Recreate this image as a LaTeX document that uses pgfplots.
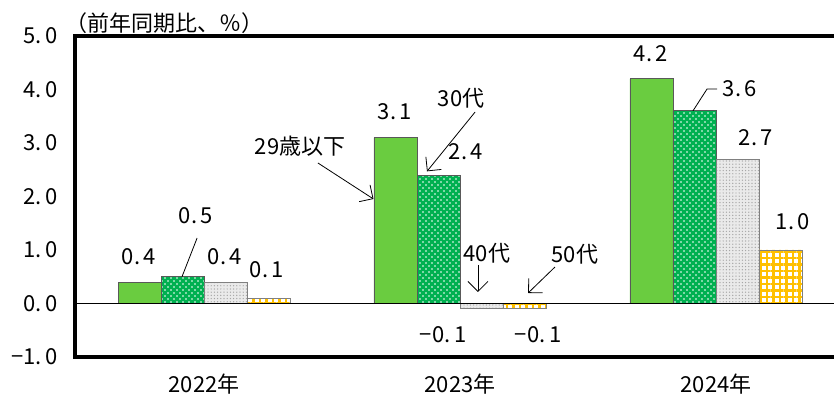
\documentclass[border=0pt]{standalone}
\usepackage{pgfplots}
\pgfplotsset{compat=1.18}
\usepackage{fontspec}
\setmainfont{Noto Sans CJK JP}
\usetikzlibrary{patterns.meta,arrows.meta}
\definecolor{gA}{RGB}{106,204,64}
\definecolor{gB}{RGB}{0,176,80}
\definecolor{grB}{RGB}{234,234,234}
\definecolor{yB}{RGB}{255,192,0}
\newcommand{\n}[2]{#1.\,#2}
\begin{document}
\begin{tikzpicture}[font=\fontsize{11}{13}\selectfont]
\begin{axis}[
 scale only axis, width=379.5pt, height=160.5pt,
 xmin=-0.504, xmax=2.461, ymin=-1, ymax=5,
 axis line style={draw=none},
 ytick={-1,0,...,5}, yticklabels={\n{−1}{0},\n{0}{0},\n{1}{0},\n{2}{0},\n{3}{0},\n{4}{0},\n{5}{0}},
 xtick={0,1,2}, xticklabels={2022年,2023年,2024年},
 major tick length=0pt,
 yticklabel style={xshift=-5pt},
 xticklabel style={yshift=-5pt},
 ybar, bar width=0.168,
 clip=false,
]
\addplot[bar shift=-0.252, fill=gA, draw=gray!70!black, line width=0.4pt] coordinates {(0,0.4) (1,3.1) (2,4.2)};
\addplot[bar shift=-0.084, fill=gB, draw=gray!70!black, line width=0.4pt,
  postaction={pattern={Dots[distance=3pt,radius=0.45pt]}, pattern color=white},
  postaction={pattern={Dots[distance=3pt,radius=0.45pt,xshift=1.5pt,yshift=1.5pt]}, pattern color=white}] coordinates {(0,0.5) (1,2.4) (2,3.6)};
\addplot[bar shift=0.084, fill=grB, draw=gray, line width=0.4pt,
  postaction={pattern={Dots[distance=1.6pt,radius=0.35pt]}, pattern color=gray!70}] coordinates {(0,0.4) (1,-0.1) (2,2.7)};
\addplot[bar shift=0.252, fill=white, draw=gray, line width=0.4pt,
  postaction={pattern={Hatch[distance=3.25pt,line width=1.2pt]}, pattern color=yB}] coordinates {(0,0.1) (1,-0.1) (2,1.0)};
% frame and zero line
\draw[line width=0.75pt] (axis cs:-0.504,0) -- (axis cs:2.461,0);
\draw[line width=2pt, line join=miter, line cap=rect] (rel axis cs:1,1) -- (rel axis cs:0,1) -- (rel axis cs:0,0) -- (rel axis cs:1,0);
\node[anchor=south west, inner sep=0pt, xshift=-5pt, yshift=1pt] at (rel axis cs:0,1) {（前年同期比、％）};
% data labels
\node at (axis cs:-0.254,0.869) {\n{0}{4}};
\node at (axis cs:-0.031,1.636) {\n{0}{5}};
\draw (axis cs:-0.027,1.224) -- (axis cs:-0.086,0.5);
\node at (axis cs:0.082,0.869) {\n{0}{4}};
\node at (axis cs:0.246,0.626) {\n{0}{1}};
\node at (axis cs:0.746,3.579) {\n{3}{1}};
\node at (axis cs:1.023,2.832) {\n{2}{4}};
\node at (axis cs:1.004,3.841) {30代};
\draw[-{Straight Barb[length=5pt]}] (axis cs:1.059,3.579) -- (axis cs:0.871,2.47);
\node at (axis cs:0.375,2.944) {29歳以下};
\draw[-{Straight Barb[length=5pt]}] (axis cs:0.445,2.626) -- (axis cs:0.662,1.953);
\node at (axis cs:1.105,0.944) {40代};
\draw[-{Straight Barb[length=5pt]}] (axis cs:1.070,0.72) -- (axis cs:1.070,0.215);
\node at (axis cs:1.449,0.925) {50代};
\draw[-{Straight Barb[length=5pt]}] (axis cs:1.371,0.682) -- (axis cs:1.266,0.196);
\node at (axis cs:0.934,-0.589) {\n{−0}{1}};
\node at (axis cs:1.305,-0.589) {\n{−0}{1}};
\node at (axis cs:1.746,4.664) {\n{4}{2}};
\node at (axis cs:2.094,4.009) {\n{3}{6}};
\draw (axis cs:2.004,4.009) -- (axis cs:1.965,4.009) -- (axis cs:1.910,3.6);
\node at (axis cs:2.156,3.093) {\n{2}{7}};
\node at (axis cs:2.301,1.523) {\n{1}{0}};
\coordinate (bl) at (rel axis cs:0,0);
\coordinate (tr) at (rel axis cs:1,1);
\end{axis}
\pgfresetboundingbox
\useasboundingbox ([xshift=-37.5pt,yshift=-22pt]bl) rectangle ([yshift=18pt]tr);
\end{tikzpicture}
\end{document}
